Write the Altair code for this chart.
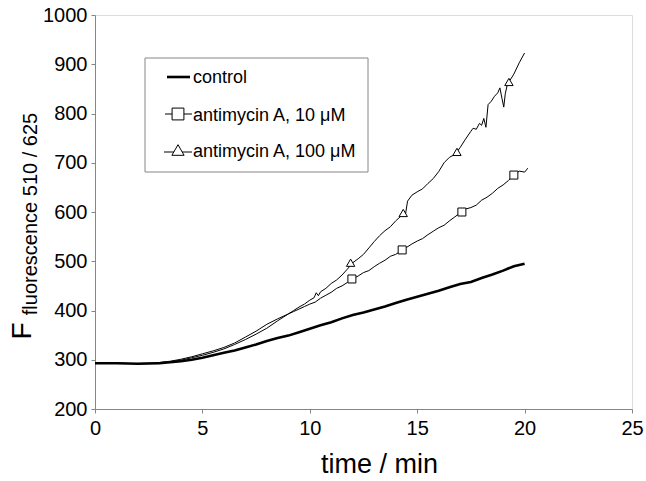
import altair as alt
import pandas as pd

SERIES = ["control", "antimycin A, 10 μM", "antimycin A, 100 μM"]

CTRL_T = [0, 0.5, 1, 1.5, 2, 2.5, 3, 3.5, 4, 4.5, 5, 5.5, 6, 6.5, 7, 7.5, 8, 8.5, 9, 9.5,
          10, 10.5, 11, 11.5, 12, 12.5, 13, 13.5, 14, 14.5, 15, 15.5, 16, 16.5, 17, 17.5,
          18, 18.5, 19, 19.5, 20]
CTRL_F = [293, 293, 293, 292.5, 292, 292.5, 293, 295, 297, 300, 304, 309, 314, 319, 325, 331,
          338, 344, 349, 356, 363, 370, 376, 384, 391, 396, 402, 408, 415, 422, 428, 434,
          440, 447, 454, 458, 466, 473, 481, 490, 495]

A10_T = [0, 0.5, 1, 1.5, 2, 2.5, 3, 3.5, 4, 4.5, 5, 5.5, 6, 6.5, 7, 7.5, 8, 8.5, 9,
         9.25, 9.5, 9.75, 10, 10.25, 10.5, 10.75, 11, 11.25, 11.5, 11.75, 12, 12.25, 12.5,
         12.75, 13, 13.25, 13.5, 13.75, 14, 14.25, 14.5, 14.75, 15, 15.25, 15.5, 15.75, 16,
         16.25, 16.5, 16.75, 17, 17.25, 17.5, 17.75, 18, 18.25, 18.5, 18.75, 19, 19.25, 19.5,
         19.75, 20, 20.15]
A10_F = [293, 293, 293, 292.5, 292.5, 293, 294.5, 297, 301, 306, 312, 318, 325, 334, 346, 358, 372, 383, 393,
         398, 403, 408, 413, 417, 425, 431, 437, 445, 450, 457, 464, 470, 477,
         481, 489, 496, 502, 510, 514, 521, 528, 535, 541, 546, 554, 561, 568,
         573, 582, 590, 598, 606, 609, 614, 624, 630, 638, 648, 655, 664, 675,
         683, 681, 689]

A100_T = [0, 0.5, 1, 1.5, 2, 2.5, 3, 3.5, 4, 4.5, 5, 5.5, 6, 6.5, 7, 7.5, 8, 8.5, 9,
          9.25, 9.5, 9.75, 10, 10.2, 10.3, 10.4, 10.5, 10.75, 11, 11.25, 11.5, 11.75, 12,
          12.25, 12.5, 12.75, 13, 13.25, 13.5, 13.75, 14, 14.25, 14.35, 14.45, 14.55, 14.75,
          15, 15.25, 15.5, 15.75, 16, 16.25, 16.5, 16.75, 16.85, 17, 17.25, 17.5, 17.6, 17.75,
          17.9, 18.0, 18.1, 18.2, 18.3, 18.45, 18.6, 18.75, 18.85, 18.95, 19.03, 19.1, 19.2,
          19.27, 19.5, 19.75, 20]
A100_F = [293, 293, 293, 292.5, 292, 292.5, 294, 296, 299, 304, 309, 315, 322, 331, 341, 352, 364, 379, 393,
          400, 407, 413, 421, 426, 436, 430, 438, 445, 455, 462, 472, 484, 497,
          505, 514, 527, 540, 552, 562, 570, 582, 592, 598, 594, 622, 634,
          641, 647, 658, 668, 682, 700, 711, 717, 722, 731, 748, 764, 770, 768,
          780, 776, 790, 772, 818, 825, 835, 842, 852, 830, 813, 840, 860,
          864, 880, 903, 923]

SQ_T = [11.96, 14.3, 17.08, 19.5]
SQ_F = [464, 523, 600, 675]
TRI_T = [11.9, 14.35, 16.85, 19.27]
TRI_F = [497, 598, 722, 864]

X_TICKS = [0, 5, 10, 15, 20, 25]
Y_TICKS = [200, 300, 400, 500, 600, 700, 800, 900, 1000]

FONT = "Liberation Sans"
AXIS_GRAY = "#868686"

ctrl_df = pd.DataFrame({"t": CTRL_T, "F": CTRL_F})
a10_df = pd.DataFrame({"t": A10_T, "F": A10_F})
a100_df = pd.DataFrame({"t": A100_T, "F": A100_F})
sq_df = pd.DataFrame({"t": SQ_T, "F": SQ_F})
tri_df = pd.DataFrame({"t": TRI_T, "F": TRI_F})

x_enc = alt.X("t:Q", scale=alt.Scale(domain=[0, 25], nice=False),
              axis=alt.Axis(values=X_TICKS, title="time / min", grid=False, format="d",
                            titleFontSize=27, titleFont=FONT, titleFontWeight="normal",
                            titleColor="black", titleBaseline="alphabetic",
                            titleY=63, titleX=284, titleAlign="center",
                            labelFontSize=20, labelFont=FONT, labelColor="black",
                            labelPadding=5, tickSize=4, tickColor=AXIS_GRAY,
                            domainColor=AXIS_GRAY, labelFlush=False))
y_enc = alt.Y("F:Q", scale=alt.Scale(domain=[200, 1000], nice=False),
              axis=alt.Axis(values=Y_TICKS, title=None, grid=False, format="d",
                            labelFontSize=20, labelFont=FONT, labelColor="black",
                            labelPadding=4, tickSize=4, tickColor=AXIS_GRAY,
                            domainColor=AXIS_GRAY, labelFlush=False))

line_ctrl = alt.Chart(ctrl_df).mark_line(color="black", strokeWidth=2.6).encode(x=x_enc, y=y_enc)
line_a10 = alt.Chart(a10_df).mark_line(color="black", strokeWidth=1).encode(x="t:Q", y="F:Q")
line_a100 = alt.Chart(a100_df).mark_line(color="black", strokeWidth=1).encode(x="t:Q", y="F:Q")

squares = alt.Chart(sq_df).mark_point(shape="square", size=64, filled=True, fill="white",
                                       stroke="black", strokeWidth=1, opacity=1).encode(
    x="t:Q", y="F:Q")
triangles = alt.Chart(tri_df).mark_point(shape="triangle-up", size=70, filled=True, fill="white",
                                          stroke="black", strokeWidth=1, opacity=1).encode(
    x="t:Q", y="F:Q")

one = pd.DataFrame({"k": [0]})
leg_box = alt.Chart(one).mark_rect(fill="white", stroke=AXIS_GRAY, strokeWidth=1).encode(
    x=alt.value(50), x2=alt.value(273), y=alt.value(43), y2=alt.value(157))

leg_items = []
leg_items.append(alt.Chart(one).mark_rule(color="black", strokeWidth=2.6).encode(
    x=alt.value(72), x2=alt.value(95), y=alt.value(62)))
leg_items.append(alt.Chart(one).mark_rule(color="black", strokeWidth=1).encode(
    x=alt.value(70), x2=alt.value(97), y=alt.value(99)))
leg_items.append(alt.Chart(one).mark_point(shape="square", size=140, filled=True, fill="white",
                                           stroke="black", strokeWidth=1, opacity=1).encode(
    x=alt.value(83), y=alt.value(99)))
leg_items.append(alt.Chart(one).mark_rule(color="black", strokeWidth=1).encode(
    x=alt.value(69), x2=alt.value(97), y=alt.value(137)))
leg_items.append(alt.Chart(one).mark_point(shape="triangle-up", size=150, filled=True, fill="white",
                                           stroke="black", strokeWidth=1, opacity=1).encode(
    x=alt.value(83), y=alt.value(135)))
for label, ypos in zip(SERIES, [68, 106, 142]):
    leg_items.append(alt.Chart(one).mark_text(align="left", baseline="alphabetic", fontSize=18,
                                              font=FONT, color="black").encode(
        x=alt.value(98), y=alt.value(ypos), text=alt.value(label)))

ytitle_main = alt.Chart(one).mark_text(angle=270, align="center", baseline="middle", fontSize=28,
                                       font=FONT, color="black").encode(
    x=alt.value(-72), y=alt.value(316), text=alt.value("F"))
ytitle_sub = alt.Chart(one).mark_text(angle=270, align="center", baseline="middle", fontSize=20,
                                      font=FONT, color="black").encode(
    x=alt.value(-64), y=alt.value(199), text=alt.value("fluorescence 510 / 625"))

chart = alt.layer(line_ctrl, line_a10, line_a100, squares, triangles, leg_box, *leg_items,
                  ytitle_main, ytitle_sub).properties(
    width=537, height=394, autosize="none",
    padding={"left": 95, "top": 15, "right": 14, "bottom": 72},
).configure_view(stroke=None).configure(background="white")

chart.save("out.html", embed_options={"renderer": "svg", "actions": False})
